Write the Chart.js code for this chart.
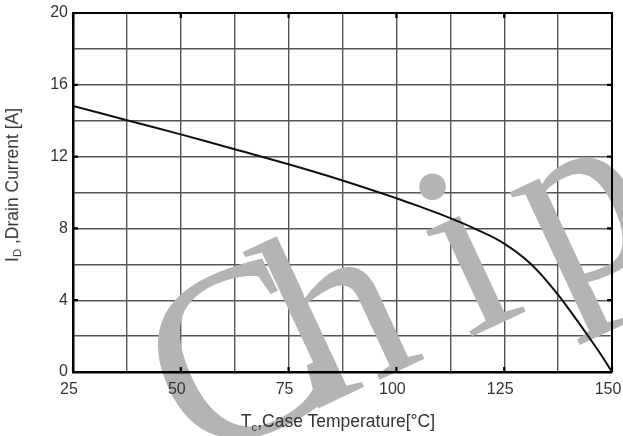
<!DOCTYPE html>
<html lang="en">
<head>
  <meta charset="UTF-8" />
  <title>Drain Current vs Case Temperature</title>
  <script src="https://cdn.jsdelivr.net/npm/chart.js"></script>
  <style>
    body { margin: 0; background: #fff; }
    .wrap { position: relative; width: 623px; height: 436px; font-family: "Liberation Sans", Arial, sans-serif; color: #333; }
    .axis-title { position: absolute; white-space: nowrap; font-size: 17.5px; line-height: 1; }
    .axis-title sub { font-size: 0.65em; vertical-align: -0.3em; }
    #ytitle { left: 14px; top: 185px; transform: translate(-50%, -50%) rotate(-90deg); }
    #xtitle { left: 338px; top: 423px; transform: translate(-50%, -50%); }
  </style>
</head>
<body>
  <div class="wrap">
    <canvas id="curveChart" width="623" height="436"></canvas>
    <div class="axis-title" id="ytitle">I<sub>D</sub> ,Drain Current [A]</div>
    <div class="axis-title" id="xtitle">T<sub>c</sub>,Case Temperature[°C]</div>
  </div>

  <script>
    // values
    const caseTemp = [25, 37.5, 50, 62.5, 75, 87.5, 100, 106.25, 112.5, 118.75, 125, 131.25, 137.5, 140, 143.75, 147.5, 150];
    const drainCurrent = [14.82, 14.03, 13.24, 12.41, 11.57, 10.67, 9.68, 9.14, 8.57, 7.92, 7.15, 6.0, 4.3, 3.5, 2.25, 0.95, 0];
    const xLabels = [25, 50, 75, 100, 125, 150];
    const yLabels = [0, 4, 8, 12, 16, 20];

    const ctx = document.getElementById('curveChart').getContext('2d');

    // grey "Chip" stamp: over the grid, under the curve and axes
    const watermark = {
      id: 'watermark',
      beforeDatasetsDraw(chart) {
        const c = chart.ctx;
        const letters = ['C', 'h', 'i', 'p'];
        const nudge = [4, -30, 14, 40];
        c.save();
        c.translate(190, 468);
        c.rotate(-25 * Math.PI / 180);
        c.font = '250px "Liberation Serif", "Times New Roman", serif';
        c.fillStyle = '#b4b4b4';
        let x = 0;
        letters.forEach((ch, i) => {
          c.fillText(ch, x + nudge[i], 0);
          x += c.measureText(ch).width;
        });
        c.restore();
      }
    };

    // top/right edges of the plot box and the short inner tick stubs
    const frame = {
      id: 'frame',
      afterDraw(chart) {
        const { left, right, top, bottom } = chart.chartArea;
        const xs = chart.scales.x, ys = chart.scales.y;
        const c = chart.ctx;
        c.save();
        c.strokeStyle = '#000';
        c.lineWidth = 2;
        c.beginPath();
        c.moveTo(left, top);
        c.lineTo(right, top);
        c.lineTo(right, bottom);
        c.stroke();
        c.lineWidth = 2.2;
        c.beginPath();
        xLabels.forEach(v => {
          const px = xs.getPixelForValue(v);
          c.moveTo(px, bottom); c.lineTo(px, bottom - 5);
          c.moveTo(px, top); c.lineTo(px, top + 5);
        });
        yLabels.forEach(v => {
          const py = ys.getPixelForValue(v);
          c.moveTo(left, py); c.lineTo(left + 5, py);
          c.moveTo(right, py); c.lineTo(right - 5, py);
        });
        c.stroke();
        c.restore();
      }
    };

    new Chart(ctx, {
      type: 'line',
      data: {
        datasets: [{
          data: caseTemp.map((t, i) => ({ x: t, y: drainCurrent[i] })),
          borderColor: '#111',
          borderWidth: 2,
          pointRadius: 0,
          fill: false,
          tension: 0.4
        }]
      },
      options: {
        responsive: false,
        animation: false,
        layout: { padding: { left: 0, top: 13, right: 11, bottom: 0 } },
        plugins: {
          legend: { display: false },
          tooltip: { enabled: false }
        },
        scales: {
          x: {
            type: 'linear',
            min: 25,
            max: 150,
            grid: { color: '#555', lineWidth: 1.4, drawTicks: false },
            border: { color: '#000', width: 2.5, z: 1 },
            ticks: {
              stepSize: 12.5,
              padding: 8,
              labelOffset: -4,
              maxRotation: 0,
              autoSkip: false,
              color: '#333',
              font: { family: '"Liberation Sans", Arial, sans-serif', size: 16 },
              z: 1,
              callback: v => xLabels.includes(v) ? String(v) : ''
            },
            afterFit(scale) {
              scale.height = 64;
              scale.paddingLeft = 0;
              scale.paddingRight = 0;
            }
          },
          y: {
            min: 0,
            max: 20,
            grid: { color: '#555', lineWidth: 1.4, drawTicks: false },
            border: { color: '#000', width: 2.5, z: 1 },
            ticks: {
              stepSize: 2,
              padding: 5,
              autoSkip: false,
              color: '#333',
              font: { family: '"Liberation Sans", Arial, sans-serif', size: 16 },
              z: 1,
              callback: v => yLabels.includes(v) ? String(v) : ''
            },
            afterFit(scale) {
              scale.width = 73;
              scale.paddingTop = 0;
              scale.paddingBottom = 0;
            }
          }
        }
      },
      plugins: [watermark, frame]
    });
  </script>
</body>
</html>
